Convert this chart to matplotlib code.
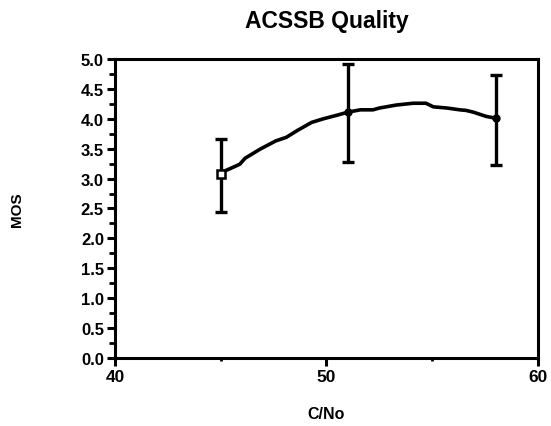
import numpy as np
import matplotlib
matplotlib.use("Agg")
import matplotlib.pyplot as plt
from matplotlib.ticker import MultipleLocator

plt.rcParams["font.family"] = ["Liberation Sans", "DejaVu Sans"]
plt.rcParams["font.weight"] = "bold"

# smooth curve
cno_curve = [45.0, 45.4, 45.9, 46.15, 46.85, 47.6, 48.1, 48.6, 49.3, 49.85, 50.5,
             51.0, 51.6, 52.2, 52.5, 53.3, 54.1, 54.7, 55.05, 55.7, 56.3, 56.6,
             56.95, 57.55, 58.0]
mos_curve = [3.10, 3.16, 3.24, 3.34, 3.49, 3.63, 3.69, 3.80, 3.94, 4.00, 4.06,
             4.11, 4.15, 4.15, 4.18, 4.23, 4.26, 4.26, 4.20, 4.18, 4.15, 4.14,
             4.11, 4.04, 4.01]

# measured points with error bars
cno_pts = [45, 51, 58]
mos_pts = [3.08, 4.11, 4.01]
mos_low = [2.44, 3.28, 3.23]
mos_high = [3.67, 4.92, 4.74]

fig = plt.figure(figsize=(5.51, 4.27), dpi=100)
ax = fig.add_axes([0.2087, 0.1593, 0.7677, 0.7002])

ax.plot(cno_curve, mos_curve, color="black", lw=2.6, solid_capstyle="round")

yerr = [np.array(mos_pts) - np.array(mos_low), np.array(mos_high) - np.array(mos_pts)]
ax.errorbar(cno_pts, mos_pts, yerr=yerr, fmt="none", ecolor="black",
            elinewidth=2.4, capsize=4, capthick=2.4)
ax.plot(cno_pts[:1], mos_pts[:1], "s", ms=6, mfc="white", mec="black", mew=1.8)
ax.plot(cno_pts[1:], mos_pts[1:], "o", ms=5, color="black")

ax.set_xlim(40, 60)
ax.set_ylim(0, 5)
ax.xaxis.set_major_locator(MultipleLocator(10))
ax.xaxis.set_minor_locator(MultipleLocator(5))
ax.yaxis.set_major_locator(MultipleLocator(0.5))
ax.yaxis.set_minor_locator(MultipleLocator(0.25))
ax.yaxis.set_major_formatter(plt.FormatStrFormatter("%.1f"))

for s in ax.spines.values():
    s.set_linewidth(2.2)
ax.tick_params(which="major", direction="out", length=6, width=2.2, labelsize=12, pad=2)
ax.tick_params(which="minor", direction="out", length=4, width=2)
ax.tick_params(axis="x", which="minor", length=2)
for lab in ax.get_xticklabels():
    lab.set_fontsize(12.5)

ax.set_title("ACSSB Quality", fontsize=16.5, fontweight="bold", pad=23)
ax.set_xlabel("C/No", fontsize=11.5, fontweight="bold", labelpad=16)
ax.set_ylabel("MOS", fontsize=11, fontweight="bold", labelpad=41)

fig.savefig("out.png", dpi=100)
